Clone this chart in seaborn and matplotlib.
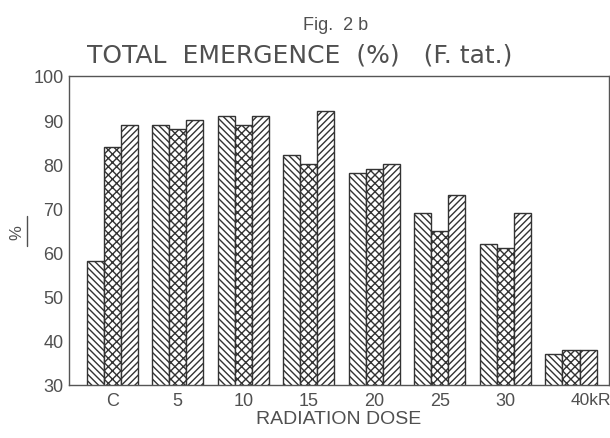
import matplotlib
matplotlib.use("Agg")
import matplotlib.pyplot as plt
import matplotlib.transforms as mtrans
from matplotlib.lines import Line2D
import seaborn as sns
import pandas as pd

doses = ["C", "5", "10", "15", "20", "25", "30", "40"]
series_names = ["I", "II", "III"]
series_1 = [58, 89, 91, 82, 78, 69, 62, 37]
series_2 = [84, 88, 89, 80, 79, 65, 61, 38]
series_3 = [89, 90, 91, 92, 80, 73, 69, 38]
tick_labels = ["C", "5", "10", "15", "20", "25", "30", "40kR"]
yticks = [30, 40, 50, 60, 70, 80, 90, 100]

rows = []
for name, vals in zip(series_names, [series_1, series_2, series_3]):
    for d, v in zip(doses, vals):
        rows.append({"dose": d, "series": name, "value": v})
df = pd.DataFrame(rows)

sns.set_theme(style="white")
plt.rcParams["font.family"] = ["Liberation Sans", "DejaVu Sans"]
plt.rcParams["hatch.linewidth"] = 1.0
ink = "#505050"
plt.rcParams["hatch.color"] = "#333333"

fig = plt.figure(figsize=(6.1, 4.39), dpi=100)
ax = fig.add_axes([69/610, 1 - 386/439, (609 - 69)/610, (386 - 77)/439])

sns.barplot(data=df, x="dose", y="value", hue="series", order=doses,
            hue_order=series_names, palette=["white"] * 3, width=0.78,
            edgecolor="#333333", linewidth=1.0, ax=ax, legend=False)

hatches = ["\\\\\\\\\\", "xxxx", "/////"]
for cont, h in zip(ax.containers, hatches):
    for bar in cont:
        bar.set_hatch(h)
        bar.set_facecolor("white")

ax.set_ylim(30, 100)
ax.set_xlim(-0.66, 7.58)
ax.set_yticks(yticks)
ax.set_yticklabels([str(t) for t in yticks], fontsize=13, color=ink)
ax.set_xticks(range(len(doses)))
ax.set_xticklabels(tick_labels, fontsize=13, color=ink)
for lbl in ax.get_xticklabels():
    if lbl.get_text() == "40kR":
        lbl.set_horizontalalignment("left")
        lbl.set_fontsize(12.5)
        lbl.set_transform(lbl.get_transform() + mtrans.ScaledTranslation(-0.15, 0, fig.dpi_scale_trans))
ax.tick_params(axis="x", length=0, pad=5)
ax.tick_params(axis="y", length=0, pad=4)

for s in ax.spines.values():
    s.set_color("#555555")
    s.set_linewidth(1.0)

ax.set_xlabel("RADIATION DOSE", fontsize=14, color=ink, labelpad=1)
ax.set_ylabel("")

# y-axis label: "%" rotated with underline bar
fig.text(17/610, 1 - 233/439, "%", rotation=90, ha="center", va="center",
         fontsize=12, color=ink)
fig.add_artist(Line2D([27/610, 27/610], [1 - 217/439, 1 - 247/439],
                      transform=fig.transFigure, color=ink, linewidth=1.0))

fig.text(336/610, 1 - 30/439, "Fig.  2 b", ha="center", va="baseline",
         fontsize=13, color=ink)
fig.text(300/610, 1 - 63/439, "TOTAL  EMERGENCE  (%)   (F. tat.)", ha="center",
         va="baseline", fontsize=18, color=ink, family=["DejaVu Sans"])

fig.savefig("out.png", dpi=100)
